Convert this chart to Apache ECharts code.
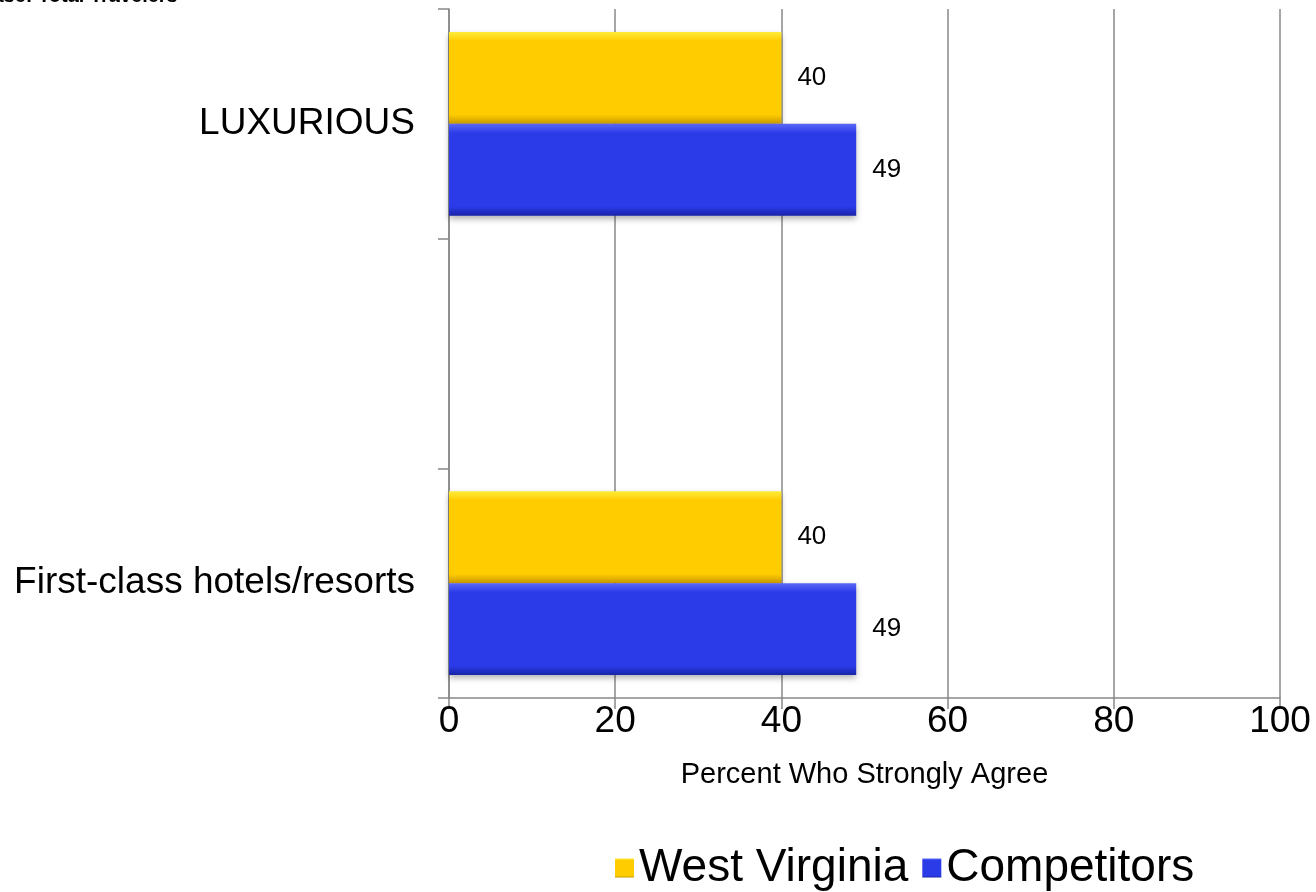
<!DOCTYPE html>
<html>
<head>
<meta charset="utf-8">
<script src="https://cdn.jsdelivr.net/npm/echarts@6/dist/echarts.min.js"></script>
<style>
  html, body { margin: 0; padding: 0; background: #fff; }
  #main { width: 1316px; height: 892px; }
</style>
</head>
<body>
<div id="main"></div>
<script>
var categories = ['LUXURIOUS', '', 'First-class hotels/resorts'];
var westVirginia = [40, '-', 40];
var competitors = [49, '-', 49];
var xTicks = [0, 20, 40, 60, 80, 100];

var myChart = echarts.init(document.getElementById('main'));

function bevel(light, base, dark) {
    return new echarts.graphic.LinearGradient(0, 0, 0, 1, [
        {offset: 0, color: light},
        {offset: 0.1, color: base},
        {offset: 0.9, color: base},
        {offset: 1, color: dark}
    ]);
}

var labelStyle = {
    show: true,
    position: 'right',
    distance: 16,
    color: '#000',
    fontSize: 26,
    fontFamily: 'Liberation Sans'
};

option = {
    animation: false,
    textStyle: {fontFamily: 'Liberation Sans'},
    graphic: [{
        type: 'text',
        left: -22,
        top: -14,
        style: {
            text: 'Base: Total Travelers',
            fontSize: 20,
            fontWeight: 'bold',
            fontFamily: 'Liberation Sans',
            fill: '#000'
        }
    }],
    grid: {
        left: 449,
        right: 36,
        top: 9,
        bottom: 194
    },
    legend: {
        bottom: -4,
        left: 610,
        icon: 'rect',
        itemWidth: 19,
        itemHeight: 19,
        itemGap: 14,
        textStyle: {fontSize: 46, color: '#000', fontFamily: 'Liberation Sans'},
        data: ['West Virginia', 'Competitors']
    },
    xAxis: {
        type: 'value',
        min: 0,
        max: 100,
        interval: 20,
        name: 'Percent Who Strongly Agree',
        nameLocation: 'middle',
        nameGap: 62,
        nameTextStyle: {fontSize: 29, color: '#000'},
        axisLine: {show: true, lineStyle: {color: '#888', width: 1.5}},
        axisTick: {show: true, length: 11, lineStyle: {color: '#888', width: 1.5}},
        axisLabel: {
            fontSize: 37,
            color: '#000',
            margin: 5,
            formatter: function (v) { return xTicks.indexOf(v) >= 0 ? String(v) : ''; }
        },
        splitLine: {show: true, lineStyle: {color: '#888', width: 1.5}}
    },
    yAxis: {
        type: 'category',
        inverse: true,
        data: categories,
        axisLine: {show: true, lineStyle: {color: '#888', width: 1.5}},
        axisTick: {show: true, length: 11, lineStyle: {color: '#888', width: 1.5}},
        axisLabel: {fontSize: 37, color: '#000', margin: 34}
    },
    series: [
        {
            name: 'West Virginia',
            type: 'bar',
            barGap: '0%',
            barCategoryGap: '20%',
            data: westVirginia,
            itemStyle: {
                color: bevel('#FFEC3A', '#FFCC00', '#C99A00'),
                shadowColor: 'rgba(0,0,0,0.3)',
                shadowBlur: 6,
                shadowOffsetY: 3
            },
            label: labelStyle
        },
        {
            name: 'Competitors',
            type: 'bar',
            data: competitors,
            itemStyle: {
                color: bevel('#5A68F5', '#2B3BE8', '#1824A8'),
                shadowColor: 'rgba(0,0,0,0.3)',
                shadowBlur: 6,
                shadowOffsetY: 3
            },
            label: labelStyle
        }
    ]
};
myChart.setOption(option);

window.addEventListener('resize', function () {
    myChart.resize();
});
</script>
</body>
</html>
